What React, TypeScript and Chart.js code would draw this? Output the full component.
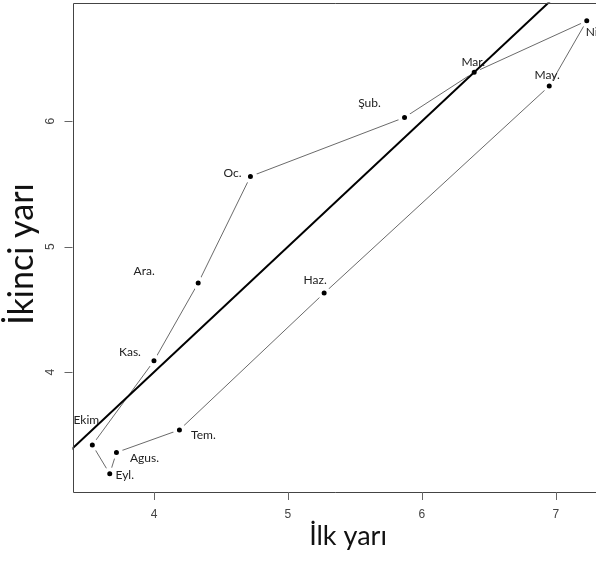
import React, { useEffect, useRef } from "react";
import { Chart, registerables } from "chart.js";

Chart.register(...registerables);

// Monthly values, in the order the loop is traced (starting from January)
const months = ["Oc.", "Şub.", "Mar.", "Nis.", "May.", "Haz.", "Tem.", "Agus.", "Eyl.", "Ekim", "Kas.", "Ara."];
const firstHalf = [4.72, 5.87, 6.39, 7.23, 6.95, 5.27, 4.19, 3.72, 3.67, 3.54, 4.0, 4.33];
const secondHalf = [5.56, 6.03, 6.39, 6.8, 6.28, 4.63, 3.54, 3.36, 3.19, 3.42, 4.09, 4.71];

// Reference line y = x
const diagonal = [2, 9];

const xTicks = [4, 5, 6, 7];
const yTicks = [4, 5, 6];

// Label placement relative to each point, in pixels [dx, dy]
const labelOffsets: [number, number][] = [
  [-18, -3], [-35, -14], [-1, -10], [9, 11], [-2, -11], [-9, -13],
  [24, 5], [28, 6], [15, 1], [-6, -25], [-24, -9], [-54, -12],
];

const X_MIN = 3.392;
const X_MAX = 7.299;
const Y_MIN = 3.045;
const Y_MAX = 6.946;

const frame = {
  id: "frame",
  afterDatasetsDraw(chart: any) {
    const { ctx, chartArea: a, scales } = chart;
    const xs = scales.x;
    const ys = scales.y;
    ctx.save();

    // point labels
    ctx.font = "12px Lato, 'Open Sans', sans-serif";
    ctx.fillStyle = "#222";
    ctx.textAlign = "center";
    ctx.textBaseline = "middle";
    months.forEach((m, i) => {
      const px = xs.getPixelForValue(firstHalf[i]);
      const py = ys.getPixelForValue(secondHalf[i]);
      ctx.fillText(m, px + labelOffsets[i][0], py + labelOffsets[i][1]);
    });

    // box (left, top, bottom)
    ctx.strokeStyle = "#444";
    ctx.lineWidth = 1;
    ctx.beginPath();
    ctx.moveTo(a.right + 2, Math.round(a.top) + 0.5);
    ctx.lineTo(Math.round(a.left) + 0.5, Math.round(a.top) + 0.5);
    ctx.lineTo(Math.round(a.left) + 0.5, Math.round(a.bottom) + 0.5);
    ctx.lineTo(a.right + 2, Math.round(a.bottom) + 0.5);
    ctx.stroke();

    // ticks
    ctx.strokeStyle = "#666";
    ctx.beginPath();
    xTicks.forEach((t) => {
      const px = Math.round(xs.getPixelForValue(t)) + 0.5;
      ctx.moveTo(px, a.bottom);
      ctx.lineTo(px, a.bottom + 8);
    });
    yTicks.forEach((t) => {
      const py = Math.round(ys.getPixelForValue(t)) + 0.5;
      ctx.moveTo(a.left, py);
      ctx.lineTo(a.left - 8, py);
    });
    ctx.stroke();

    // tick labels
    ctx.font = "12px 'Liberation Sans', Arial, sans-serif";
    ctx.fillStyle = "#444";
    ctx.textAlign = "center";
    ctx.textBaseline = "middle";
    xTicks.forEach((t) => {
      ctx.fillText(String(t), xs.getPixelForValue(t), a.bottom + 23);
    });
    yTicks.forEach((t) => {
      ctx.save();
      ctx.translate(a.left - 22, ys.getPixelForValue(t));
      ctx.rotate(-Math.PI / 2);
      ctx.fillText(String(t), 0, 0);
      ctx.restore();
    });

    // axis titles
    ctx.fillStyle = "#111";
    ctx.textBaseline = "alphabetic";
    ctx.font = "27px Lato, 'Open Sans', sans-serif";
    ctx.fillText("İlk yarı", 348, 545);
    ctx.save();
    ctx.font = "34px Lato, 'Open Sans', sans-serif";
    ctx.translate(33, 254);
    ctx.rotate(-Math.PI / 2);
    ctx.fillText("İkinci yarı", 0, 0);
    ctx.restore();

    ctx.restore();
  },
};

export default function App() {
  const canvasRef = useRef<HTMLCanvasElement | null>(null);

  useEffect(() => {
    const canvas = canvasRef.current;
    if (!canvas) return;

    const loop = firstHalf.map((x, i) => ({ x, y: secondHalf[i] }));
    loop.push({ x: firstHalf[0], y: secondHalf[0] });

    const chart = new Chart(canvas, {
      type: "scatter",
      data: {
        datasets: [
          {
            label: "y = x",
            data: diagonal.map((v) => ({ x: v, y: v })),
            showLine: true,
            borderColor: "#000",
            borderWidth: 2,
            pointRadius: 0,
            pointHoverRadius: 0,
          },
          {
            label: "Aylar",
            data: loop,
            showLine: true,
            borderColor: "#444",
            borderWidth: 0.8,
            pointRadius: 4.5,
            pointHoverRadius: 4.5,
            pointBackgroundColor: "#000",
            pointBorderColor: "#fff",
            pointBorderWidth: 4,
          },
        ],
      },
      options: {
        responsive: false,
        animation: false,
        events: [],
        layout: { autoPadding: false, padding: { left: 72.5, top: 2.5, right: 0, bottom: 76 } },
        plugins: { legend: { display: false }, tooltip: { enabled: false } },
        scales: {
          x: { type: "linear", display: false, min: X_MIN, max: X_MAX },
          y: { type: "linear", display: false, min: Y_MIN, max: Y_MAX },
        },
      },
      plugins: [frame],
    });

    return () => chart.destroy();
  }, []);

  return (
    <div style={{ position: "fixed", left: 0, top: 0, width: 596, height: 568, background: "#fff" }}>
      <canvas ref={canvasRef} width={596} height={568} />
    </div>
  );
}
